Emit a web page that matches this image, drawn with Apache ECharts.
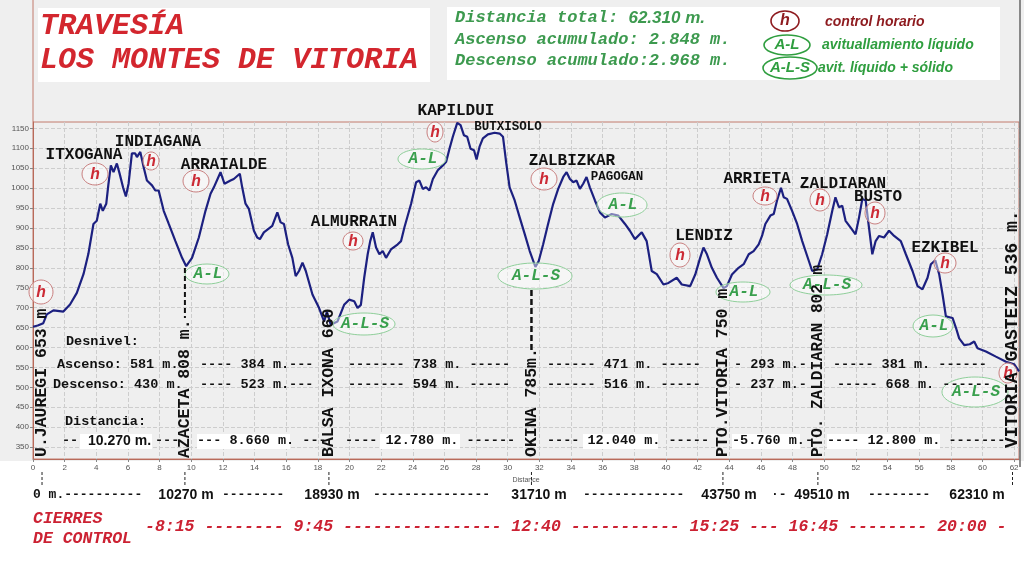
<!DOCTYPE html>
<html><head><meta charset="utf-8">
<script src="https://cdn.jsdelivr.net/npm/echarts@6/dist/echarts.min.js"></script>
<style>html,body{margin:0;padding:0;background:#fff}#c{width:1024px;height:567px}</style>
</head><body><div id="c"></div>
<script>
// ---------- DATA ----------
const distanceKm = [0,0.3,0.65,0.87,1.29,1.92,2.34,2.77,3.19,3.5,3.82,4.03,4.25,4.41,4.63,4.77,4.92,5.09,5.3,5.47,5.69,5.87,6.04,6.25,6.46,6.57,6.78,6.99,7.2,7.52,7.73,7.94,8.26,8.58,9.0,9.42,9.68,10.05,10.48,10.9,11.22,11.43,11.85,12.1,12.48,12.69,13.07,13.22,13.43,13.64,13.96,14.17,14.34,14.59,15.12,15.44,15.65,15.86,16.12,16.39,16.6,16.81,17.03,17.24,17.66,18.08,18.4,18.57,18.82,19.24,19.66,19.98,20.3,20.51,20.72,20.93,21.15,21.31,21.47,21.68,21.89,22.1,22.31,22.62,23.05,23.26,23.47,23.89,24.21,24.42,24.63,24.84,25.05,25.27,25.58,25.9,26.11,26.32,26.53,26.81,27.02,27.23,27.44,27.65,27.87,28.03,28.22,28.43,28.75,29.17,29.49,29.7,29.91,30.12,30.44,30.76,31.08,31.39,31.75,31.96,32.24,32.55,32.87,33.19,33.51,33.72,33.93,34.14,34.35,34.56,34.77,34.98,35.19,35.51,35.83,36.14,36.57,36.99,37.41,37.72,38.04,38.47,38.78,39.1,39.42,39.84,40.16,40.68,41.0,41.53,41.85,42.16,42.37,42.59,42.9,43.22,43.64,43.85,44.17,44.59,44.91,45.23,45.54,45.86,46.07,46.28,46.6,46.81,47.02,47.27,47.44,47.65,47.97,48.29,48.61,49.03,49.24,49.56,49.87,50.19,50.51,50.71,50.93,51.14,51.35,51.67,51.98,52.2,52.41,52.62,52.83,53.04,53.25,53.47,53.78,54.1,54.42,54.84,55.16,55.58,55.9,56.21,56.53,56.74,57.02,57.27,57.48,57.69,58.11,58.32,58.53,58.85,59.2,59.48,59.69,60.22,60.85,61.49,62.0,62.31];
const altitudeM = [652,655,661,683,693,690,708,737,784,835,910,918,961,943,961,1011,1057,1040,1062,1037,1002,979,1011,1087,1087,1078,1091,1053,1019,1007,994,994,943,910,867,825,804,825,876,943,986,1002,1040,1011,1019,1023,1036,1002,961,948,893,876,872,889,905,939,914,910,859,825,779,792,813,792,733,699,665,690,657,665,707,720,716,699,707,775,834,867,889,851,834,842,825,846,859,867,901,960,1015,1019,998,1002,994,1023,1045,1057,1066,1099,1129,1164,1158,1133,1129,1099,1095,1072,1104,1125,1135,1139,1137,1129,1062,1002,969,926,884,842,802,817,859,910,960,998,1028,1040,1023,1015,1019,998,1011,1028,1002,969,939,926,935,931,910,893,872,889,867,792,784,758,762,775,758,754,783,825,851,834,800,775,749,754,783,800,809,834,842,859,880,910,931,935,969,1001,977,973,943,910,867,817,792,796,834,884,943,977,952,956,918,901,884,926,973,969,901,834,867,880,876,893,880,867,834,792,754,746,775,809,819,783,733,678,674,650,623,606,608,615,598,590,577,564,558,540];
const yTicks = [350,400,450,500,550,600,650,700,750,800,850,900,950,1000,1050,1100,1150];
const stationNames = ['U.JAUREGI 653 m','AZACETA 808 m.','BALSA IXONA 660','OKINA 785m.','PTO.VITORIA 750 m','PTO. ZALDIARAN 802 m','VITORIA GASTEIZ 536 m.'];
const stationKm = [0.57,9.6,18.7,31.5,43.6,49.6,61.9];
const stationDist = ['0 m.','10270 m','18930 m','31710 m','43750 m','49510 m','62310 m'];
const closingTimes = ['8:15','9:45','12:40','15:25','16:45','20:00'];
const peakNames = ['ITXOGANA','INDIAGANA','ARRAIALDE','ALMURRAIN','KAPILDUI','BUTXISOLO','ZALBIZKAR','PAGOGAN','LENDIZ','ARRIETA','ZALDIARAN','BUSTO','EZKIBEL'];
const ascents = ['581 m.','384 m.','738 m.','471 m.','293 m.','381 m.'];
const descents = ['430 m.','523 m.','594 m.','516 m.','237 m.','668 m.'];
const legs = ['10.270 m.','8.660 m.','12.780 m.','12.040 m.','5.760 m.','12.800 m.'];

// ---------- CHART ----------
const MONO = '"Courier New","Liberation Mono",monospace';
const SANS = '"Liberation Sans","Noto Sans",sans-serif';
const chart = echarts.init(document.getElementById('c'));
chart.setOption({
  backgroundColor: '#efefef',
  animation: false,
  grid: {left: 33, right: 5, top: 122, bottom: 108, containLabel: false, outerBoundsMode: 'none',
         show: true, borderColor: '#c27a6c', borderWidth: 1, backgroundColor: 'transparent'},
  xAxis: {
    type: 'value', min: 0, max: 62.31, interval: 2,
    name: 'Distance', nameLocation: 'middle', nameGap: 11,
    nameTextStyle: {fontSize: 7, color: '#555'},
    axisLine: {lineStyle: {color: '#b86a5a'}},
    axisTick: {length: 3, lineStyle: {color: '#888'}},
    axisLabel: {fontSize: 8, color: '#555', margin: 5, showMaxLabel: false, formatter: v => String(v)},
    splitLine: {lineStyle: {type: 'dashed', color: '#cdcdcd'}}
  },
  yAxis: {
    type: 'value', min: 320, max: 1166,
    name: 'Altitude', nameLocation: 'middle', nameGap: 24, nameRotate: 90,
    nameTextStyle: {fontSize: 7, color: '#555'},
    axisLine: {show: true, lineStyle: {color: '#b86a5a'}},
    axisTick: {show: true, length: 3, customValues: yTicks, lineStyle: {color: '#888'}},
    axisLabel: {fontSize: 8, color: '#555', margin: 4, customValues: yTicks, formatter: v => String(v)},
    splitLine: {lineStyle: {type: 'dashed', color: '#cdcdcd'}}
  },
  series: [{
    type: 'line', data: distanceKm.map((d, i) => [d, altitudeM[i]]),
    symbol: 'none', z: 3,
    lineStyle: {color: '#1c2080', width: 2.2}
  }]
});

// ---------- ANNOTATIONS ----------
const G = [];
function txt(x, y, text, font, fill, align, z) {
  G.push({type: 'text', x: x, y: y, z: z || 6, style: {text: text, font: font, fill: fill, align: align || 'left', verticalAlign: 'middle'}});
}
function rect(x, y, w, h, fill, z) {
  G.push({type: 'rect', z: z, shape: {x: x, y: y, width: w, height: h}, style: {fill: fill}});
}
function line(x1, y1, x2, y2, stroke, w, dash, z) {
  G.push({type: 'line', z: z || 6, shape: {x1: x1, y1: y1, x2: x2, y2: y2}, style: {stroke: stroke, lineWidth: w, lineDash: dash || null}});
}
function ell(cx, cy, rx, ry, stroke, w, z, fill) {
  G.push({type: 'ellipse', z: z || 6, shape: {cx: cx, cy: cy, rx: rx, ry: ry}, style: {fill: fill || 'none', stroke: stroke, lineWidth: w}});
}

// backgrounds
rect(0, 461, 1024, 106, '#ffffff', -1);
rect(38, 8, 392, 74, '#ffffff', 1);
rect(447, 7, 553, 73, '#ffffff', 1);
line(33, 0, 33, 122, '#c27a6c', 1, null, 1);
line(1020, 0, 1020, 467, '#666', 1.5, null, 1);

// title
const RED = '#d3262e';
txt(40, 26, 'TRAVESÍA', 'italic bold 30px ' + MONO, RED);
txt(40, 60, 'LOS MONTES DE VITORIA', 'italic bold 30px ' + MONO, RED);

// stats
const GREEN = '#3d9a4f';
G.push({type: 'text', x: 455, y: 18, z: 6, style: {text: '{a|Distancia total: }{b|62.310 m.}', verticalAlign: 'middle',
  rich: {a: {font: 'italic bold 17px ' + MONO, fill: GREEN}, b: {font: 'italic bold 17px ' + SANS, fill: GREEN}}}});
txt(455, 40, 'Ascenso acumulado: 2.848 m.', 'italic bold 17px ' + MONO, GREEN);
txt(455, 61, 'Descenso acumulado:2.968 m.', 'italic bold 17px ' + MONO, GREEN);

// legend
const DRED = '#8e1b1f', LGREEN = '#2f9e3f';
ell(785, 21, 14, 10, DRED, 1.6);
txt(785, 21, 'h', 'italic bold 16px ' + SANS, DRED, 'center');
txt(825, 22, 'control horario', 'italic bold 14px ' + SANS, DRED);
ell(787, 45, 23, 10, LGREEN, 1.6);
txt(787, 45, 'A-L', 'italic bold 15px ' + SANS, LGREEN, 'center');
txt(822, 45, 'avituallamiento líquido', 'italic bold 14px ' + SANS, LGREEN);
ell(790, 68, 27, 11, LGREEN, 1.6);
txt(790, 68, 'A-L-S', 'italic bold 15px ' + SANS, LGREEN, 'center');
txt(818, 68, 'avit. líquido + sólido', 'italic bold 14px ' + SANS, LGREEN);

// peak names
const peakPos = [[84,155],[158,142],[224,165],[354,222],[456,111],[508,127],[572,161],[617,177],[704,236],[757,179],[843,184],[878,197],[945,248]];
const peakSize = [16,16,16,16,16,12.5,16,12.5,16,16,16,16,16];
peakNames.forEach((n, i) => txt(peakPos[i][0], peakPos[i][1], n, 'bold ' + peakSize[i] + 'px ' + MONO, '#111', 'center'));

// h control markers
const hPos = [[41,292,12,12],[95,174,13,11],[151,161,8,9],[196,181,13,11],[353,241,10,9],[435,132,8,10],[544,179,13,11],[680,255,10,12],[765,196,12,9],[820,200,10,11],[875,213,10,11],[945,263,11,10],[1008,373,9,10]];
hPos.forEach(p => { ell(p[0], p[1], p[2], p[3], '#c98080', 1, 5, 'rgba(255,255,255,0.45)'); txt(p[0], p[1] + 1, 'h', 'italic bold 16px ' + MONO, '#cc2b36', 'center'); });

// supply points
const alPos = [[207,274,22,10,'A-L'],[422,159,24,10,'A-L'],[622,205,25,12,'A-L'],[743,292,27,10,'A-L'],[933,326,20,11,'A-L'],
               [364,324,31,11,'A-L-S'],[535,276,37,13,'A-L-S'],[826,285,36,10,'A-L-S'],[975,392,33,15,'A-L-S']];
alPos.forEach(p => { ell(p[0], p[1], p[2], p[3], '#8fcf9a', 1, 5, 'rgba(255,255,255,0.45)'); txt(p[0] + 1, p[1], p[4], 'italic bold 16px ' + MONO, '#3aa04e', 'center'); });

// station labels (rotated) and dashed markers
const stSize = [16.5,16.5,16.5,16.5,16.5,16,18];
const stBottom = [457,458,457,457,457,457,448];
stationKm.forEach((km, i) => {
  const x = chart.convertToPixel({xAxisIndex: 0}, km);
  G.push({type: 'text', x: x, y: stBottom[i], rotation: Math.PI / 2, z: 6,
    style: {text: stationNames[i], font: 'bold ' + stSize[i] + 'px ' + MONO, fill: '#111', align: 'left', verticalAlign: 'middle'}});
  line(x, 472, x, 486, '#222', 1, [3, 2]);
});
const azX = chart.convertToPixel({xAxisIndex: 0}, stationKm[1]);
line(azX, 268, azX, 318, '#111', 2, [5, 3]);
const okX = chart.convertToPixel({xAxisIndex: 0}, stationKm[3]);
line(okX, 290, okX, 350, '#111', 2.5, [6, 3]);

// middle block
const M = 'bold 13.5px ' + MONO, K = '#111';
txt(66, 342, 'Desnivel:', M, K);
txt(57, 365, 'Ascenso: ' + ascents[0], M, K);
txt(53, 385, 'Descenso: ' + descents[0], M, K);
txt(200, 365, '---- ' + ascents[1] + '---', M, K);
txt(200, 385, '---- ' + descents[1] + '---', M, K);
txt(348, 365, '------- ' + ascents[2] + ' -----', M, K);
txt(348, 385, '------- ' + descents[2] + ' -----', M, K);
txt(547, 365, '------ ' + ascents[3] + ' -----', M, K);
txt(547, 385, '------ ' + descents[3] + ' -----', M, K);
txt(734, 365, '- ' + ascents[4] + '-', M, K);
txt(734, 385, '- ' + descents[4] + '-', M, K);
txt(833, 365, '----- ' + ascents[5] + ' ------', M, K);
txt(837, 385, '----- ' + descents[5] + ' ------', M, K);
txt(65, 422, 'Distancia:', M, K);
[[80,72],[197,93],[380,80],[583,75],[732,68],[827,113]].forEach(b => rect(b[0], 434, b[1], 15, '#ffffff', 4));
txt(62, 441, '--', M, K);
txt(88, 441, legs[0], 'bold 14px ' + SANS, K);
txt(155, 441, '---', M, K);
txt(197, 441, '--- ' + legs[1] + ' ---', M, K);
txt(345, 441, '---- ' + legs[2] + ' ------', M, K);
txt(547, 441, '---- ' + legs[3] + ' -----', M, K);
txt(732, 441, '-' + legs[4] + '-', M, K);
txt(827, 441, '---- ' + legs[5] + ' --------', M, K);

// bottom distances row
const B = 'bold 13px ' + MONO, NB = 'bold 14px ' + SANS;
txt(33, 495, stationDist[0] + '----------', B, K);
const distX = [null, 186, 332, 539, 729, 822, 977];
for (let i = 1; i < stationDist.length; i++) txt(distX[i], 495, stationDist[i], NB, K, 'center');
txt(222, 495, '--------', B, K);
txt(373, 495, '---------------', B, K);
txt(583, 495, '-------------', B, K);
txt(771, 495, '·-', B, K);
txt(868, 495, '--------', B, K);

// closing times
const T = 'italic bold 16.5px ' + MONO, TR = '#cc2233';
txt(33, 519, 'CIERRES', T, TR);
txt(33, 539, 'DE CONTROL', T, TR);
const dashes = ['--------', '----------------', '-----------', '---', '--------'];
let ct = '-' + closingTimes[0];
for (let i = 1; i < closingTimes.length; i++) ct += ' ' + dashes[i - 1] + ' ' + closingTimes[i];
ct += ' -';
txt(145, 527, ct, T, TR);

chart.setOption({graphic: {elements: G}});
</script>
</body></html>
